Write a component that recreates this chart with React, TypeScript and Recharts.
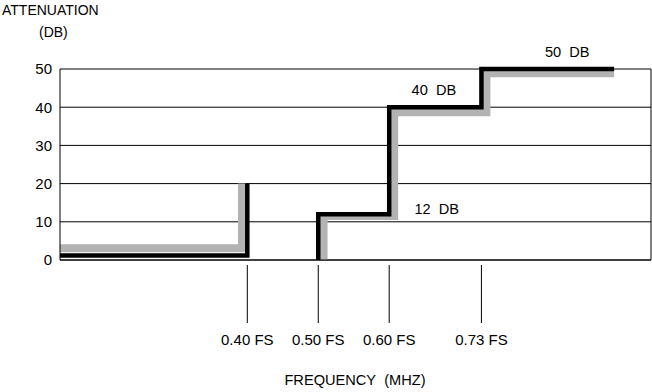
import React from 'react';
import { LineChart, Line, XAxis, YAxis, CartesianGrid, ReferenceDot } from 'recharts';

const FONT = '"Liberation Sans", Arial, Helvetica, sans-serif';

// Axis ticks
const yTicks = [0, 10, 20, 30, 40, 50];
const freqTicks = [0.4, 0.5, 0.6, 0.73];
const freqTickLabels = ['0.40 FS', '0.50 FS', '0.60 FS', '0.73 FS'];

// Black stepped limit (null = gap between the two bands)
const specFreq = [0.136, 0.4, 0.45, 0.5, 0.5, 0.6, 0.73, 0.917];
const specAtten: (number | null)[] = [1.2, 20, null, 0, 12, 40, 50, 50];

// Gray stepped response
const measFreq = [0.136, 0.3925, 0.45, 0.5075, 0.5075, 0.607, 0.737, 0.917];
const measAtten: (number | null)[] = [3.1, 20, null, 0, 11.5, 38.7, 48.9, 48.9];

// Annotations
const noteFreq = [0.667, 0.663, 0.851];
const noteAtten = [13.35, 44.6, 54.6];
const noteText = ['12\u00a0\u00a0DB', '40\u00a0\u00a0DB', '50\u00a0\u00a0DB'];

const specData = specFreq.map((x, i) => ({ x, y: specAtten[i] }));
const measData = measFreq.map((x, i) => ({ x, y: measAtten[i] }));

const FreqTick = (props: any) => {
  const { x, y, payload } = props;
  const idx = freqTicks.indexOf(payload.value);
  return (
    <g>
      <line x1={x} x2={x} y1={y + 5} y2={y + 63} stroke="#000" strokeWidth={1} />
      <text x={x} y={y + 85} textAnchor="middle" fontSize={15} fontFamily={FONT} fill="#000">
        {freqTickLabels[idx]}
      </text>
    </g>
  );
};

export default function App() {
  return (
    <div style={{ position: 'absolute', left: 0, top: 0, width: 652, height: 392, background: '#fff' }}>
      <LineChart
        width={652}
        height={392}
        margin={{ top: 69, right: 0, bottom: 0, left: 0 }}
        style={{ fontFamily: FONT }}
      >
        <CartesianGrid vertical={false} stroke="#000" strokeWidth={1} />
        <XAxis
          type="number"
          dataKey="x"
          domain={[0.136, 0.969]}
          ticks={freqTicks}
          allowDataOverflow
          height={132}
          tickSize={0}
          tickMargin={0}
          tickLine={false}
          axisLine={{ stroke: '#000', strokeWidth: 1 }}
          tick={<FreqTick />}
          interval={0}
          label={{
            content: () => (
              <text x={355} y={385} textAnchor="middle" fontSize={14.6} fontFamily={FONT} fill="#000">
                {'FREQUENCY\u00a0\u00a0(MHZ)'}
              </text>
            ),
          }}
        />
        <YAxis
          type="number"
          domain={[0, 50]}
          ticks={yTicks}
          width={60}
          tickSize={0}
          tickMargin={8}
          tickLine={false}
          axisLine={{ stroke: '#000', strokeWidth: 1 }}
          tick={{ fill: '#000', fontSize: 15, fontFamily: FONT }}
          interval={0}
          label={{
            content: () => (
              <g>
                <text x={2} y={15} fontSize={14} fontFamily={FONT} fill="#000">ATTENUATION</text>
                <text x={39} y={37} fontSize={14} fontFamily={FONT} fill="#000">(DB)</text>
              </g>
            ),
          }}
        />
        <YAxis
          yAxisId="right"
          orientation="right"
          type="number"
          domain={[0, 50]}
          width={1}
          tick={false}
          tickLine={false}
          axisLine={{ stroke: '#000', strokeWidth: 1 }}
        />
        <Line
          data={measData}
          dataKey="y"
          type="stepAfter"
          stroke="#b3b3b3"
          strokeWidth={8}
          dot={false}
          activeDot={false}
          connectNulls={false}
          isAnimationActive={false}
        />
        <Line
          data={specData}
          dataKey="y"
          type="stepAfter"
          stroke="#000"
          strokeWidth={4.5}
          dot={false}
          activeDot={false}
          connectNulls={false}
          isAnimationActive={false}
        />
        {noteFreq.map((f, i) => (
          <ReferenceDot
            key={i}
            x={f}
            y={noteAtten[i]}
            r={0}
            fill="none"
            stroke="none"
            ifOverflow="visible"
            label={{ value: noteText[i], position: 'center', fontSize: 14.6, fontFamily: FONT, fill: '#000' }}
          />
        ))}
      </LineChart>
    </div>
  );
}
